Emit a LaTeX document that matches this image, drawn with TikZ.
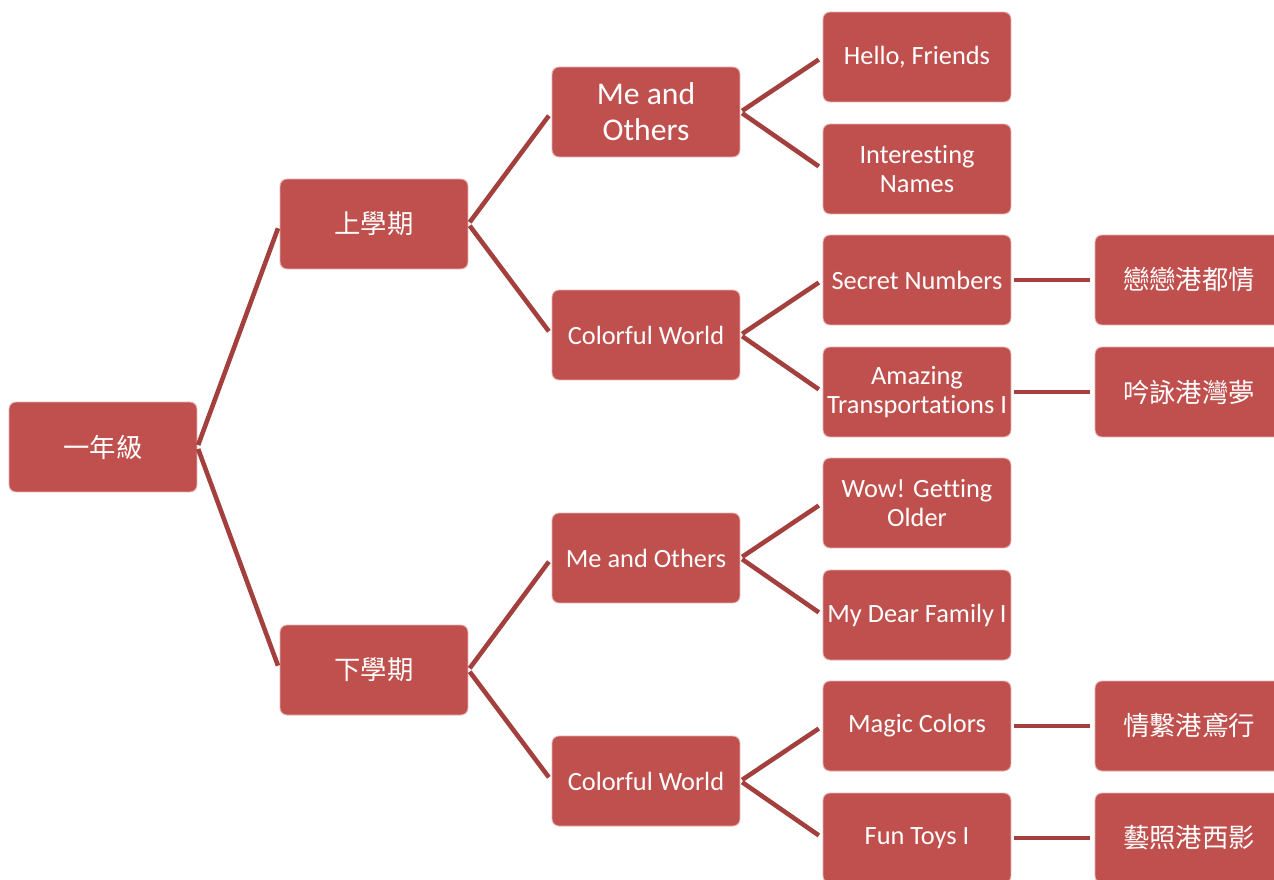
\documentclass[tikz,border=0pt]{standalone}
\usepackage{fontspec}
\setmainfont{Carlito}[Ligatures=NoCommon]
\newfontfamily\cjkfont{Noto Sans CJK TC}
\definecolor{boxRed}{HTML}{C0504D}
\definecolor{lineRed}{HTML}{A3403D}
\begin{document}
\begin{tikzpicture}
[x=0.02cm,y=-0.02cm,
  boxDecorate/.style={shape=rectangle,rounded corners=4pt,fill=boxRed,
    draw=boxRed!45!white,line width=0.5pt,minimum width=3.76cm,
    minimum height=1.8cm,inner sep=0pt,align=center,text=white,
    font=\fontsize{15}{16.5}\selectfont},
  cjkDecorate/.style={boxDecorate,font=\cjkfont\fontsize{15}{18}\selectfont},
  lineDecorate/.style={-,line width=2.6pt,draw=lineRed,
    shorten <=1.2pt,shorten >=2.6pt}]
\clip (0,0) rectangle (1274,879);
%% chinese nodes
\foreach \nodename/\x/\y/\nodetext in {
  root/103/447/一年級, sem1/374/224/上學期, sem2/374/670/下學期,
  ch1/1189/280/戀戀港都情, ch2/1189/392/吟詠港灣夢,
  ch3/1189/726/情繫港鳶行, ch4/1189/838/藝照港西影}
{
  \node (\nodename) at (\x,\y) [cjkDecorate] {\nodetext};
}
%% theme and unit nodes
\node (th1) at (646,112) [boxDecorate,font=\fontsize{18}{20.5}\selectfont]
  {Me and\\Others};
\foreach \nodename/\x/\y/\nodetext in {
  th2/646/335/{Colorful World}, th3/646/558/{Me and Others},
  th4/646/781/{Colorful World},
  un1/917/57/{Hello, Friends}, un2/917/169/{Interesting\\Names},
  un3/917/280/{Secret Numbers}, un4/917/392/{Amazing\\Transportations I},
  un5/917/503/{Wow! Getting\\Older}, un6/917/615/{My Dear Family I},
  un7/917/726/{Magic Colors}, un8/917/838/{Fun Toys I}}
{
  \node (\nodename) at (\x,\y) [boxDecorate] {\nodetext};
}
%% edges or lines
\path
\foreach \startnode/\endnode in {
  root/sem1, root/sem2, sem1/th1, sem1/th2, sem2/th3, sem2/th4,
  th1/un1, th1/un2, th2/un3, th2/un4, th3/un5, th3/un6, th4/un7, th4/un8,
  un3/ch1, un4/ch2, un7/ch3, un8/ch4}
{
  (\startnode.east) edge[lineDecorate] (\endnode.west)
};
\end{tikzpicture}
\end{document}
